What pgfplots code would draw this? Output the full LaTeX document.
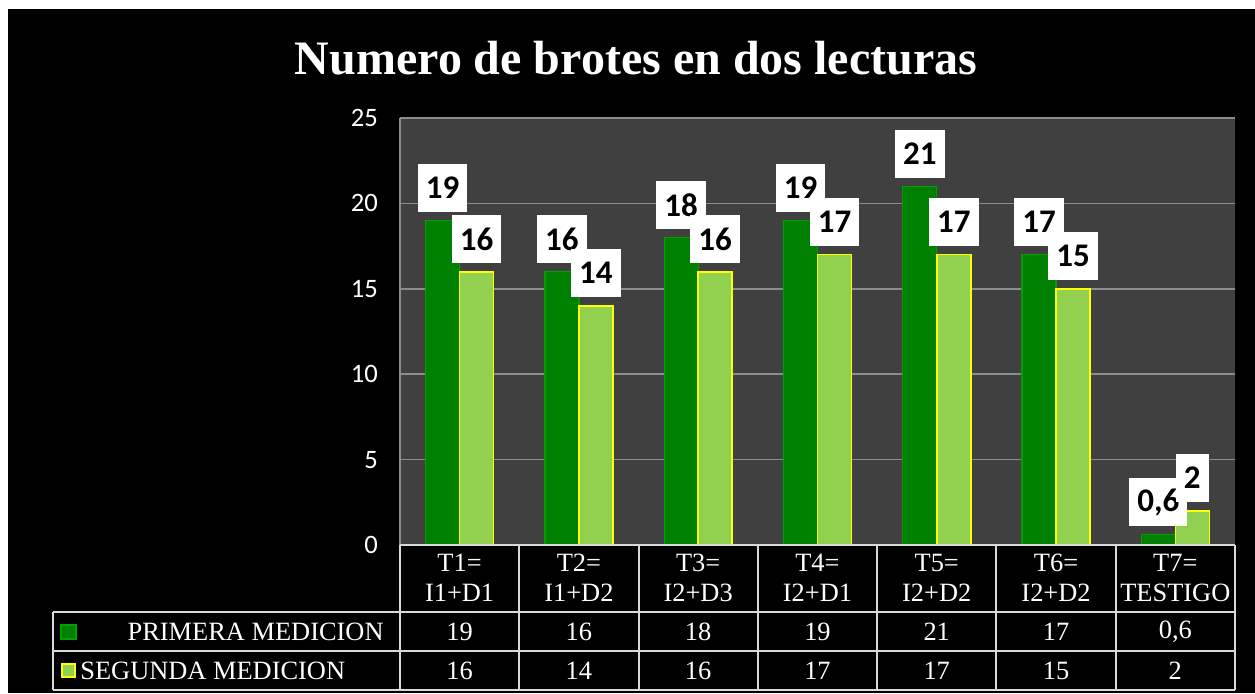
\documentclass[border=0pt]{standalone}
\usepackage{fontspec}
\setmainfont{Liberation Serif}
\newfontfamily\calibri{Carlito}
\usepackage{pgfplots}
\pgfplotsset{compat=1.18}
\definecolor{plotbg}{HTML}{404040}
\definecolor{gridc}{HTML}{8C8C8C}
\definecolor{darkg}{HTML}{008000}
\definecolor{darkgedge}{HTML}{00A000}
\definecolor{lightg}{HTML}{92D050}
\definecolor{yell}{HTML}{FFFF00}
\definecolor{tline}{HTML}{D9D9D9}
\newcommand{\tabfont}{\fontsize{13.2}{13.2}\selectfont}

\begin{document}
\begin{tikzpicture}
% pixel grid of the reference: (px,py) -> (0.5px pt, -0.5py pt)
\begin{scope}[x=0.5pt,y=-0.5pt]
\fill[white] (0,0) rectangle (1255,693);
\fill[black] (8,9) rectangle (1255,693);
\node[text=white, font=\bfseries\fontsize{24}{24}\selectfont] at (636,58) {Numero de brotes en dos lecturas};
\end{scope}

\begin{axis}[
  at={(200pt,-272.5pt)}, anchor=south west,
  scale only axis, width=417.5pt, height=213.5pt,
  xmin=-0.5, xmax=6.5, ymin=0, ymax=25,
  axis line style={draw=none},
  axis background/.style={fill=plotbg},
  ybar=0pt, bar width=17pt,
  xtick=\empty, ytick={0,5,...,25},
  ymajorgrids, grid style={gridc, line width=0.75pt},
  major tick length=0pt,
  /pgf/number format/assume math mode=true,
  /pgf/number format/use comma,
  yticklabel style={font=\calibri\fontsize{13.3}{13.3}\selectfont, text=white, xshift=-7.5pt},
  nodes near coords,
  every node near coord/.append style={fill=white, text=black,
    font=\calibri\bfseries\fontsize{16.5}{16.5}\selectfont,
    inner xsep=4pt, inner ysep=0pt, minimum height=24pt, anchor=south, yshift=4pt},
  clip=false,
]
\addplot[fill=darkg, draw=darkgedge, line width=0.6pt] coordinates {(0,19) (1,16) (2,18) (3,19) (4,21) (5,17) (6,0.6)};
\addplot[fill=lightg, draw=yell, line width=0.8pt] coordinates {(0,16) (1,14) (2,16) (3,17) (4,17) (5,15) (6,2)};
\draw[gridc, line width=0.75pt] (axis cs:-0.5,0) -- (axis cs:-0.5,25);
\end{axis}

% data table
\begin{scope}[x=0.5pt,y=-0.5pt]
\draw[tline, line width=1pt] (400,545) -- (1235,545);
\draw[tline, line width=1pt] (53,612) -- (1235,612);
\draw[tline, line width=1pt] (53,651) -- (1235,651);
\draw[tline, line width=1pt] (53,690) -- (1235,690);
\draw[tline, line width=1pt] (53,612) -- (53,690);
\foreach \k in {0,...,7} {
  \draw[tline, line width=1pt] (400+\k*119.286,545) -- (400+\k*119.286,690);
}
\foreach \i/\a/\b/\c/\d in {0/T1=/I1+D1/19/16, 1/T2=/I1+D2/16/14, 2/T3=/I2+D3/18/16,
    3/T4=/I2+D1/19/17, 4/T5=/I2+D2/21/17, 5/T6=/I2+D2/17/15, 6/T7=/TESTIGO/{0,6}/2} {
  \node[text=white, font=\tabfont, inner sep=0pt] at (459.6+\i*119.286,563) {\a};
  \node[text=white, font=\tabfont, inner sep=0pt] at (459.6+\i*119.286,593) {\b};
  \node[text=white, font=\tabfont, inner sep=0pt] at (459.6+\i*119.286,632) {\c};
  \node[text=white, font=\tabfont, inner sep=0pt] at (459.6+\i*119.286,671) {\d};
}
\filldraw[fill=darkg, draw=darkgedge, line width=0.6pt] (61,625) rectangle (76,639);
\filldraw[fill=lightg, draw=yell, line width=1pt] (62,664) rectangle (75,677);
\node[text=white, font=\tabfont, inner sep=0pt, anchor=east] at (384,632) {PRIMERA MEDICION};
\node[text=white, font=\tabfont, inner sep=0pt, anchor=west] at (80,671) {SEGUNDA MEDICION};
\end{scope}
\end{tikzpicture}
\end{document}
